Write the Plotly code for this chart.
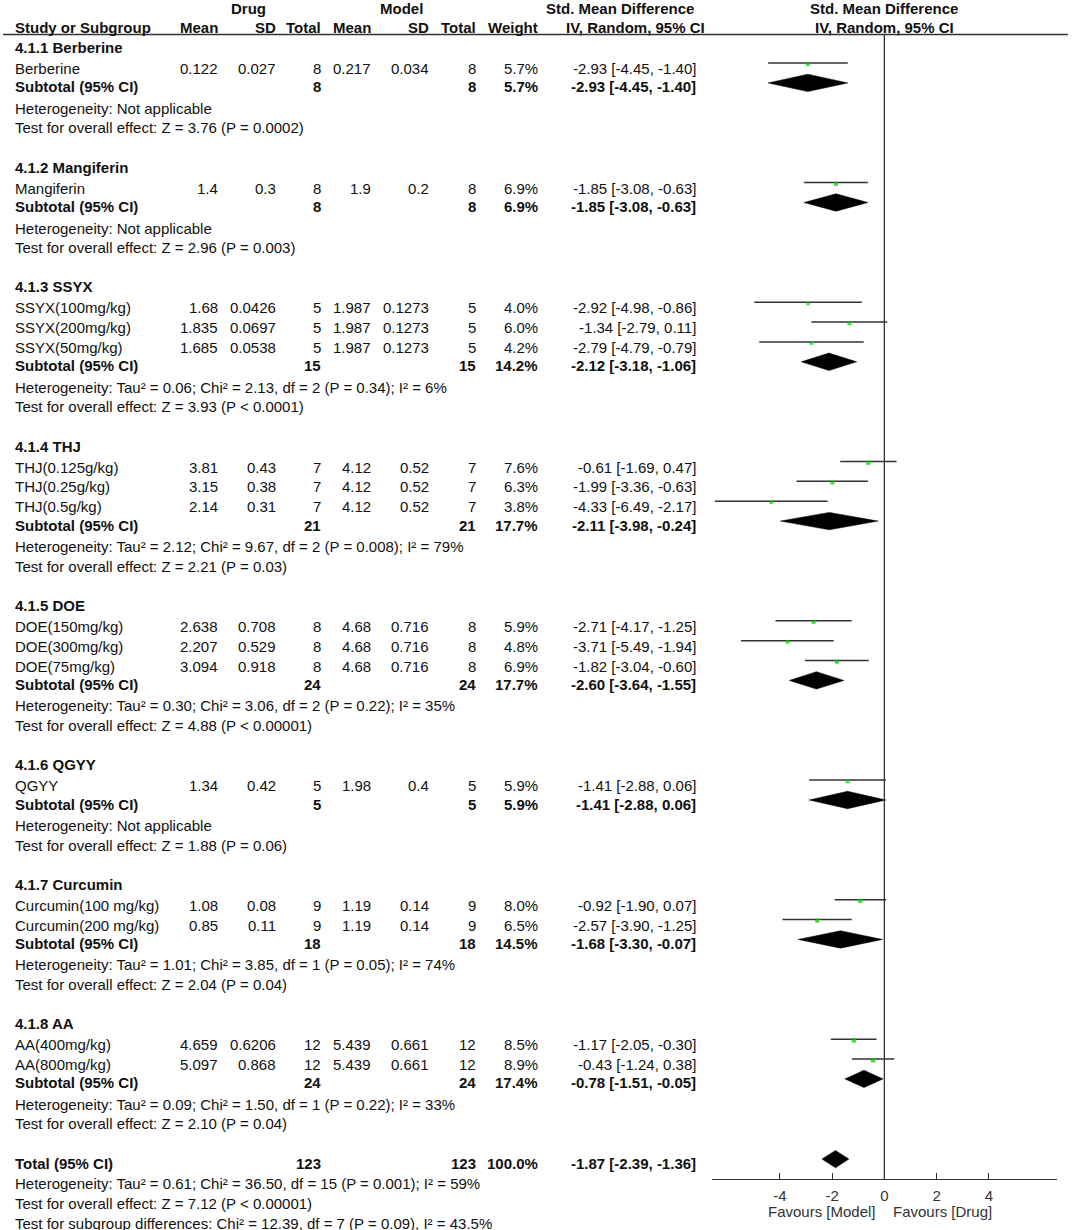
import plotly.graph_objects as go

# ---- study rows ----
study_names = ["Berberine", "Mangiferin", "SSYX(100mg/kg)", "SSYX(200mg/kg)", "SSYX(50mg/kg)",
               "THJ(0.125g/kg)", "THJ(0.25g/kg)", "THJ(0.5g/kg)", "DOE(150mg/kg)", "DOE(300mg/kg)",
               "DOE(75mg/kg)", "QGYY", "Curcumin(100 mg/kg)", "Curcumin(200 mg/kg)",
               "AA(400mg/kg)", "AA(800mg/kg)"]
study_group = [0, 1, 2, 2, 2, 3, 3, 3, 4, 4, 4, 5, 6, 6, 7, 7]
drug_mean = [0.122, 1.4, 1.68, 1.835, 1.685, 3.81, 3.15, 2.14, 2.638, 2.207, 3.094, 1.34, 1.08, 0.85, 4.659, 5.097]
drug_sd = [0.027, 0.3, 0.0426, 0.0697, 0.0538, 0.43, 0.38, 0.31, 0.708, 0.529, 0.918, 0.42, 0.08, 0.11, 0.6206, 0.868]
drug_n = [8, 8, 5, 5, 5, 7, 7, 7, 8, 8, 8, 5, 9, 9, 12, 12]
model_mean = [0.217, 1.9, 1.987, 1.987, 1.987, 4.12, 4.12, 4.12, 4.68, 4.68, 4.68, 1.98, 1.19, 1.19, 5.439, 5.439]
model_sd = [0.034, 0.2, 0.1273, 0.1273, 0.1273, 0.52, 0.52, 0.52, 0.716, 0.716, 0.716, 0.4, 0.14, 0.14, 0.661, 0.661]
model_n = [8, 8, 5, 5, 5, 7, 7, 7, 8, 8, 8, 5, 9, 9, 12, 12]
study_weight = [5.7, 6.9, 4.0, 6.0, 4.2, 7.6, 6.3, 3.8, 5.9, 4.8, 6.9, 5.9, 8.0, 6.5, 8.5, 8.9]
study_smd = [-2.93, -1.85, -2.92, -1.34, -2.79, -0.61, -1.99, -4.33, -2.71, -3.71, -1.82, -1.41, -0.92, -2.57, -1.17, -0.43]
study_lo = [-4.45, -3.08, -4.98, -2.79, -4.79, -1.69, -3.36, -6.49, -4.17, -5.49, -3.04, -2.88, -1.90, -3.90, -2.05, -1.24]
study_hi = [-1.40, -0.63, -0.86, 0.11, -0.79, 0.47, -0.63, -2.17, -1.25, -1.94, -0.60, 0.06, 0.07, -1.25, -0.30, 0.38]

# ---- subgroup rows ----
group_labels = ["4.1.1 Berberine", "4.1.2 Mangiferin", "4.1.3 SSYX", "4.1.4 THJ",
                "4.1.5 DOE", "4.1.6 QGYY", "4.1.7 Curcumin", "4.1.8 AA"]
group_drug_n = [8, 8, 15, 21, 24, 5, 18, 24]
group_model_n = [8, 8, 15, 21, 24, 5, 18, 24]
group_weight = [5.7, 6.9, 14.2, 17.7, 17.7, 5.9, 14.5, 17.4]
group_smd = [-2.93, -1.85, -2.12, -2.11, -2.60, -1.41, -1.68, -0.78]
group_lo = [-4.45, -3.08, -3.18, -3.98, -3.64, -2.88, -3.30, -1.51]
group_hi = [-1.40, -0.63, -1.06, -0.24, -1.55, 0.06, -0.07, -0.05]
group_het = ["Not applicable", "Not applicable",
             "Tau² = 0.06; Chi² = 2.13, df = 2 (P = 0.34); I² = 6%",
             "Tau² = 2.12; Chi² = 9.67, df = 2 (P = 0.008); I² = 79%",
             "Tau² = 0.30; Chi² = 3.06, df = 2 (P = 0.22); I² = 35%",
             "Not applicable",
             "Tau² = 1.01; Chi² = 3.85, df = 1 (P = 0.05); I² = 74%",
             "Tau² = 0.09; Chi² = 1.50, df = 1 (P = 0.22); I² = 33%"]
group_z = ["Z = 3.76 (P = 0.0002)", "Z = 2.96 (P = 0.003)", "Z = 3.93 (P < 0.0001)",
           "Z = 2.21 (P = 0.03)", "Z = 4.88 (P < 0.00001)", "Z = 1.88 (P = 0.06)",
           "Z = 2.04 (P = 0.04)", "Z = 2.10 (P = 0.04)"]

# ---- overall ----
total_n = [123, 123]
total_weight = 100.0
total_smd = [-1.87, -2.39, -1.36]
total_het = "Tau² = 0.61; Chi² = 36.50, df = 15 (P = 0.001); I² = 59%"
total_z = "Z = 7.12 (P < 0.00001)"
subgroup_test = "Chi² = 12.39, df = 7 (P = 0.09), I² = 43.5%"

x_ticks = [-4, -2, 0, 2, 4]
x_tick_labels = ["-4", "-2", "0", "2", "4"]

W, H = 1072, 1230
FONT = "Liberation Sans, Arial, sans-serif"
TXT = "#111111"
ann = []


def px(x):
    # pixel -> paper fraction
    return x / W


def text(x, y, s, anchor="left", bold=False, color=TXT):
    if bold:
        s = "<b>" + s + "</b>"
    ann.append(dict(x=px(x), y=y, xref="paper", yref="y", text=s, showarrow=False,
                    xanchor=anchor, yanchor="middle", borderpad=0,
                    font=dict(family=FONT, size=15, color=color)))


def ci(v, lo, hi):
    return f"{v:.2f} [{lo:.2f}, {hi:.2f}]"


# column right edges (px)
C_LEFT = 14
C_DM, C_DSD, C_DN, C_MM, C_MSD, C_MN, C_W, C_CI = 219, 277, 322, 372, 430, 477, 539, 697

# headers
text(248, 8.5, "Drug", "center", True)
text(401, 8.5, "Model", "center", True)
text(620, 8.5, "Std. Mean Difference", "center", True)
text(884, 8.5, "Std. Mean Difference", "center", True)
text(C_LEFT, 27.5, "Study or Subgroup", "left", True)
for xc, s in [(C_DM, "Mean"), (C_DSD, "SD"), (C_DN, "Total"), (C_MM, "Mean"),
              (C_MSD, "SD"), (C_MN, "Total"), (C_W, "Weight")]:
    text(xc, 27.5, s, "right", True)
text(635, 27.5, "IV, Random, 95% CI", "center", True)
text(884, 27.5, "IV, Random, 95% CI", "center", True)

ci_x, ci_y = [], []
sq_x, sq_y, sq_s = [], [], []
dia_x, dia_y = [], []


def diamond(yc, v, lo, hi):
    dia_x.extend([lo, v, hi, v, lo, None])
    dia_y.extend([yc, yc - 8.7, yc, yc + 8.7, yc, None])


y = 47.5
for g in range(len(group_labels)):
    text(C_LEFT, y, group_labels[g], "left", True)
    y += 21
    first = True
    for i in range(len(study_names)):
        if study_group[i] != g:
            continue
        if not first:
            y += 19.85
        first = False
        text(C_LEFT, y, study_names[i])
        text(C_DM, y, str(drug_mean[i]), "right")
        text(C_DSD, y, str(drug_sd[i]), "right")
        text(C_DN, y, str(drug_n[i]), "right")
        text(C_MM, y, str(model_mean[i]), "right")
        text(C_MSD, y, str(model_sd[i]), "right")
        text(C_MN, y, str(model_n[i]), "right")
        text(C_W, y, f"{study_weight[i]:.1f}%", "right")
        text(C_CI, y, ci(study_smd[i], study_lo[i], study_hi[i]), "right")
        ci_x.extend([study_lo[i], study_hi[i], None])
        ci_y.extend([y - 5.5, y - 5.5, None])
        sq_x.append(study_smd[i])
        sq_y.append(y - 4.3)
        sq_s.append(2.6 + 0.22 * study_weight[i])
    y += 18.4
    text(C_LEFT, y, "Subtotal (95% CI)", "left", True)
    text(C_DN, y, str(group_drug_n[g]), "right", True)
    text(C_MN, y, str(group_model_n[g]), "right", True)
    text(C_W, y, f"{group_weight[g]:.1f}%", "right", True)
    text(C_CI, y, ci(group_smd[g], group_lo[g], group_hi[g]), "right", True)
    diamond(y - 4, group_smd[g], group_lo[g], group_hi[g])
    y += 21.5
    text(C_LEFT, y, "Heterogeneity: " + group_het[g])
    y += 19.5
    text(C_LEFT, y, "Test for overall effect: " + group_z[g])
    y += 39.2

text(C_LEFT, y, "Total (95% CI)", "left", True)
text(C_DN, y, str(total_n[0]), "right", True)
text(C_MN, y, str(total_n[1]), "right", True)
text(C_W, y, f"{total_weight:.1f}%", "right", True)
text(C_CI, y, ci(*total_smd), "right", True)
diamond(y - 4, *total_smd)
text(C_LEFT, y + 20.7, "Heterogeneity: " + total_het)
text(C_LEFT, y + 40, "Test for overall effect: " + total_z)
text(C_LEFT, y + 60.5, "Test for subgroup differences: " + subgroup_test)

AXIS_Y = 1179.3
text(877, 1211.7, "Favours [Model]", "right", color="#333333")
text(892, 1211.7, "Favours [Drug]", "left", color="#333333")

fig = go.Figure()
fig.add_trace(go.Scatter(x=ci_x, y=ci_y, mode="lines", line=dict(color="#333333", width=1.5),
                         hoverinfo="skip", showlegend=False))
fig.add_trace(go.Scatter(x=dia_x, y=dia_y, mode="lines", fill="toself", fillcolor="black",
                         line=dict(color="black", width=0.5), hoverinfo="skip", showlegend=False))
fig.add_trace(go.Scatter(x=sq_x, y=sq_y, mode="markers",
                         marker=dict(symbol="square", color="#00CC00", size=sq_s, line=dict(width=0)),
                         hoverinfo="skip", showlegend=False))

shapes = [
    dict(type="line", xref="paper", yref="y", x0=px(3), x1=px(1068), y0=34.5, y1=34.5,
         line=dict(color="#333333", width=1.3)),
    dict(type="line", xref="x", yref="y", x0=0, x1=0, y0=34.5, y1=AXIS_Y,
         line=dict(color="#333333", width=1.3)),
]

fig.update_layout(
    width=W, height=H, margin=dict(l=0, r=0, t=0, b=0),
    paper_bgcolor="white", plot_bgcolor="rgba(0,0,0,0)",
    annotations=ann, shapes=shapes, showlegend=False,
    xaxis=dict(domain=[px(712), px(1056.7)], range=[-6.6, 6.6], anchor="free",
               position=1 - AXIS_Y / H, showline=True, linecolor="#333333", linewidth=1.3,
               showgrid=False, zeroline=False, ticks="inside", ticklen=6, tickwidth=1.3,
               tickcolor="#333333", tickvals=x_ticks, ticktext=x_tick_labels,
               ticklabelstandoff=3,
               tickfont=dict(family=FONT, size=15, color="#333333")),
    yaxis=dict(domain=[0, 1], range=[H, 0], visible=False),
)

# drop the browser's default 8px body margin so the figure sits at the page corner
fig.write_html("out.html", config={"displayModeBar": False},
               post_script="document.body.style.margin = '0';")
